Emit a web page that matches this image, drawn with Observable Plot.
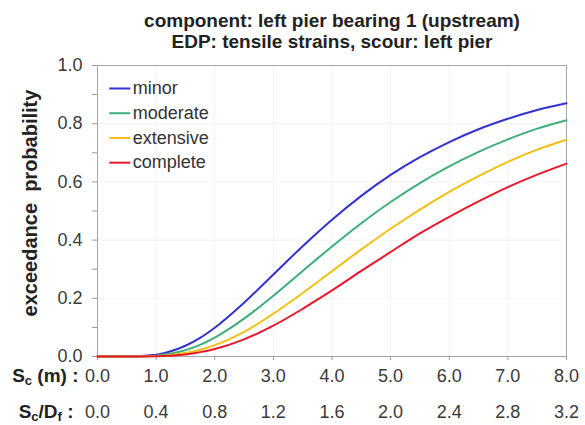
<!DOCTYPE html>
<html><head><meta charset="utf-8">
<script src="https://cdn.jsdelivr.net/npm/d3@7"></script>
<script src="https://cdn.jsdelivr.net/npm/@observablehq/plot@0.6"></script>
<style>body{margin:0;background:#fff} svg{display:block}</style>
</head><body><div id="chart"></div>
<script>
const scour     = [0, 0.5, 1, 1.25, 1.5, 1.75, 2, 2.5, 3, 3.5, 4, 4.5, 5, 5.5, 6, 6.5, 7, 7.5, 8];
const minor     = [0, 0, 0.006, 0.018, 0.037, 0.064, 0.099, 0.185, 0.282, 0.379, 0.470, 0.552, 0.624, 0.685, 0.737, 0.781, 0.817, 0.847, 0.870];
const moderate  = [0, 0, 0.003, 0.010, 0.022, 0.040, 0.065, 0.130, 0.209, 0.294, 0.378, 0.458, 0.531, 0.596, 0.653, 0.703, 0.746, 0.783, 0.812];
const extensive = [0, 0, 0.0015, 0.005, 0.012, 0.023, 0.039, 0.085, 0.147, 0.218, 0.293, 0.368, 0.439, 0.505, 0.566, 0.620, 0.669, 0.711, 0.745];
const complete  = [0, 0, 0.001, 0.003, 0.007, 0.015, 0.026, 0.059, 0.106, 0.164, 0.227, 0.294, 0.359, 0.423, 0.480, 0.533, 0.582, 0.625, 0.663];
const states = ["minor", "moderate", "extensive", "complete"];
const colors = ["#3232d2", "#3fae78", "#f2c012", "#e8182c"];
const xTicks = [0, 1, 2, 3, 4, 5, 6, 7, 8];
const xTickLabels = ["0.0", "1.0", "2.0", "3.0", "4.0", "5.0", "6.0", "7.0", "8.0"];
const ratioTickLabels = ["0.0", "0.4", "0.8", "1.2", "1.6", "2.0", "2.4", "2.8", "3.2"];
const yTicks = [0, 0.2, 0.4, 0.6, 0.8, 1.0];
const yMinorTicks = [0, 0.1, 0.2, 0.3, 0.4, 0.5, 0.6, 0.7, 0.8, 0.9, 1.0];
const titleLines = ["component: left pier bearing 1 (upstream)", "EDP: tensile strains, scour: left pier"];
const yLabel = "exceedance  probability";

const series = [minor, moderate, extensive, complete];
const rows = states.flatMap((s, i) => scour.map((x, j) => ({x, p: series[i][j], state: s})));
const legend = states.map((s, i) => ({state: s, i}));
const font = "Liberation Sans, Arial, sans-serif";

const svg = Plot.plot({
  width: 585, height: 425,
  marginTop: 65, marginRight: 19, marginBottom: 69, marginLeft: 97,
  x: {domain: [0, 8], axis: null},
  y: {domain: [0, 1], axis: null},
  color: {domain: states, range: colors},
  style: {fontFamily: font, background: "#fff", color: "#333"},
  marks: [
    Plot.gridX(xTicks, {stroke: "#000", strokeOpacity: 0.05}),
    Plot.gridY(yTicks, {stroke: "#000", strokeOpacity: 0.05}),
    Plot.frame({stroke: "#a6a6a6"}),
    Plot.axisY(yMinorTicks, {tickSize: 5, stroke: "#999", tickFormat: () => "", label: null}),
    Plot.axisY(yTicks, {tickSize: 0, tickPadding: 15, tickFormat: d => d.toFixed(1), fontSize: 18, fill: "#3a3a3a", label: null}),
    Plot.axisX(xTicks, {tickSize: 4, stroke: "#999", tickFormat: () => "", label: null}),
    Plot.text(xTicks, {x: d => d, frameAnchor: "bottom", dy: 25, text: (d, i) => xTickLabels[i], fontSize: 18, fill: "#3a3a3a"}),
    Plot.text(xTicks, {x: d => d, frameAnchor: "bottom", dy: 61, text: (d, i) => ratioTickLabels[i], fontSize: 18, fill: "#3a3a3a"}),
    Plot.text(["Sc (m) :"], {frameAnchor: "bottom-left", dx: -19, dy: 25, textAnchor: "end", fontSize: 19, fontWeight: "bold", fill: "#222"}),
    Plot.text(["Sc/Df :"], {frameAnchor: "bottom-left", dx: -24, dy: 61, textAnchor: "end", fontSize: 19, fontWeight: "bold", fill: "#222"}),
    Plot.line(rows, {x: "x", y: "p", stroke: "state", strokeWidth: 2, curve: "monotone-x"}),
    Plot.link(legend, {x1: 0.2, x2: 0.56, y1: d => 0.921 - d.i * 0.085, y2: d => 0.921 - d.i * 0.085, stroke: "state", strokeWidth: 2}),
    Plot.text(legend, {x: 0.6, y: d => 0.921 - d.i * 0.085, text: "state", textAnchor: "start", fontSize: 18, fill: "#333"}),
    Plot.text([titleLines[0]], {frameAnchor: "top", dy: -52, fontSize: 19, fontWeight: "bold", fill: "#222"}),
    Plot.text([titleLines[1]], {frameAnchor: "top", dy: -31, fontSize: 19, fontWeight: "bold", fill: "#222"}),
    Plot.text([yLabel], {frameAnchor: "left", textAnchor: "middle", dx: -67, dy: -8, rotate: -90, fontSize: 20, fontWeight: "bold", fill: "#222"})
  ]
});

// subscripts for the row labels
d3.select(svg).selectAll("text").each(function() {
  const t = this.textContent;
  const sel = d3.select(this);
  if (t === "Sc (m) :") {
    sel.text(null);
    sel.append("tspan").text("S");
    sel.append("tspan").attr("font-size", 13).attr("dy", 3).text("c");
    sel.append("tspan").attr("dy", -3).text(" (m) :");
  } else if (t === "Sc/Df :") {
    sel.text(null);
    sel.append("tspan").text("S");
    sel.append("tspan").attr("font-size", 13).attr("dy", 3).text("c");
    sel.append("tspan").attr("dy", -3).text("/D");
    sel.append("tspan").attr("font-size", 13).attr("dy", 3).text("f");
    sel.append("tspan").attr("dy", -3).text(" :");
  }
});
document.getElementById("chart").appendChild(svg);
</script>
</body></html>
